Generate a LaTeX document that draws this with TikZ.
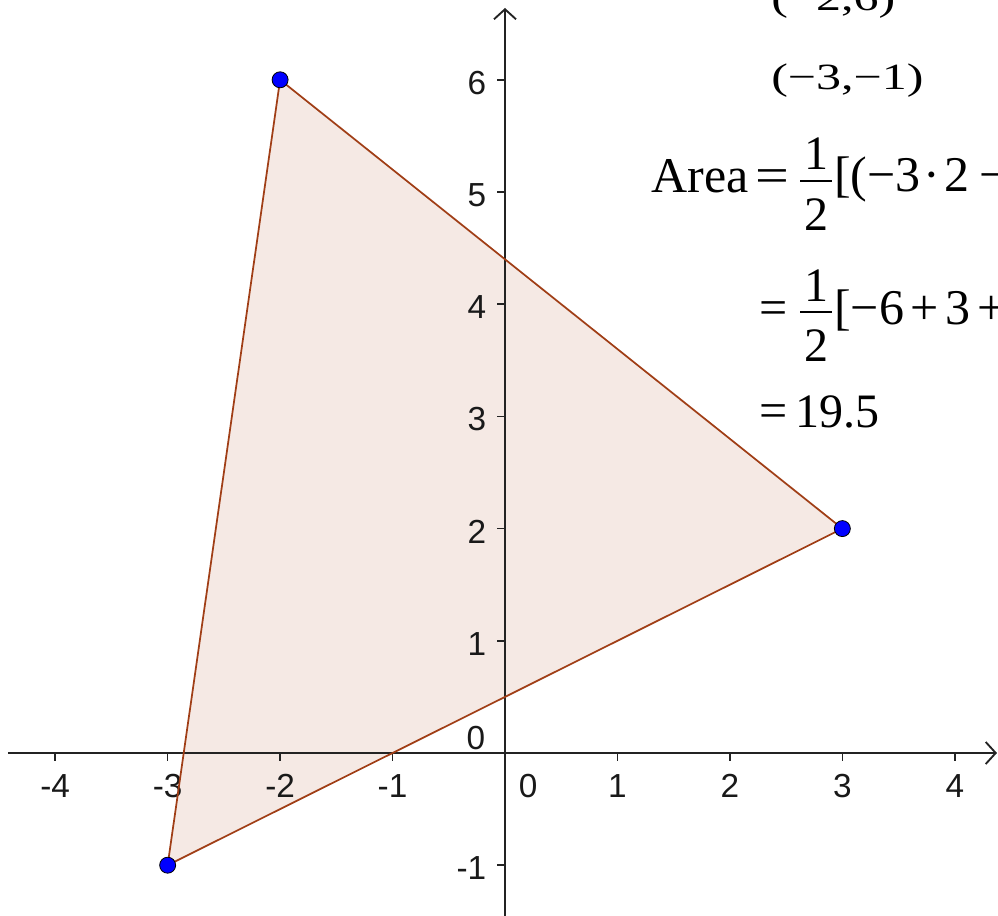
\documentclass[tikz,border=0pt]{standalone}
\usepackage{fontspec}
\setmainfont{Liberation Serif}
\newfontfamily\labfont{Liberation Sans}
\usetikzlibrary{arrows.meta}
\definecolor{edgec}{RGB}{160,62,22}
\definecolor{fillc}{RGB}{245,233,228}
\definecolor{axisc}{RGB}{35,35,35}
\definecolor{ptblue}{RGB}{0,0,255}
\tikzset{
  eqtext/.style={anchor=base west, inner sep=0pt, font=\fontsize{37.5pt}{40pt}\selectfont},
  fracdig/.style={anchor=base, inner sep=0pt, font=\fontsize{36pt}{40pt}\selectfont},
  ticklab/.style={inner sep=0pt, font=\labfont\fontsize{25pt}{28pt}\selectfont, text=black!90},
  axisline/.style={draw=axisc, line width=1.4pt},
  tickline/.style={draw=axisc, line width=1.2pt},
  fracbar/.style={line width=1.5pt},
  tri/.style={draw=edgec, line width=1.3pt, line join=round},
  vertexdot/.style={circle, fill=ptblue, draw=black, line width=0.6pt, minimum size=12pt, inner sep=0pt},
  axtip/.style={-{Straight Barb[length=7.5pt, width=16.5pt]}},
}
\begin{document}
\begin{tikzpicture}[x=0.75pt, y=-0.75pt]
\useasboundingbox (0,0) rectangle (998,916);
\clip (0,0) rectangle (998,916);
\coordinate (O) at (505,753);
\begin{scope}[shift={(O)}, x=84.3375pt, y=84.15pt]
  \coordinate (A) at (-2,6);
  \coordinate (B) at (3,2);
  \coordinate (C) at (-3,-1);
  \fill[fillc] (A) -- (B) -- (C) -- cycle;
  % axes
  \coordinate (xstart) at (-4.42,0);
  \coordinate (xend) at (4.375,0);
  \coordinate (ystart) at (0,-1.5);
  \coordinate (yend) at (0,6.64);
  \draw[axisline, axtip] (xstart) -- (xend);
  \draw[axisline, axtip] (ystart) -- (yend);
  \foreach \i in {-4,...,4} {
    \draw[tickline] (\i,0) -- ++(0,-0.075);
  }
  \foreach \i in {-4,-3,-2,-1,1,2,3,4} {
    \node[ticklab] (xlab\i) at (\i,-0.29) {\i};
  }
  \foreach \j in {-1,1,2,3,4,5,6} {
    \draw[tickline] (0,\j) -- ++(-0.075,0);
    \node[ticklab, anchor=east] (ylab\j) at (-0.165,\j-0.027) {\j};
  }
  \node[ticklab] (xlab0) at (0.205,-0.29) {0};
  \node[ticklab] (ylab0) at (-0.258,0.134) {0};
  % triangle
  \draw[tri] (A) -- (B) -- (C) -- cycle;
  \node[vertexdot] (pA) at (A) {};
  \node[vertexdot] (pB) at (B) {};
  \node[vertexdot] (pC) at (C) {};
\end{scope}
% text block
\node[eqtext] (v1) at (771,11) {\scalebox{1}[0.74]{(−2,6)}};
\node[eqtext] (v2) at (771,90) {\scalebox{1}[0.74]{(−3,−1)}};
\node[eqtext] (area) at (651,193) {Area};
\node[eqtext] (eq1) at (755,193) {\scalebox{1.2}[1]{=}};
\draw[fracbar] (800,181) -- (832,181);
\node[fracdig] (n1) at (816,170) {1};
\node[fracdig] (d1) at (816,230) {2};
\node[eqtext] (br1) at (834,192) {[(−3\hspace{2pt}·\hspace{3pt}2\hspace{8pt}−};
\node[eqtext] (eq2) at (759,324) {=};
\draw[fracbar] (800,312) -- (832,312);
\node[fracdig] (n2) at (816,301) {1};
\node[fracdig] (d2) at (816,361) {2};
\node[eqtext] (br2) at (834,324) {[−6\hspace{5pt}+\hspace{5pt}3\hspace{5pt}+};
\node[eqtext] (eq3) at (759,427) {=};
\node[fracdig, anchor=base west] (res) at (795,427) {19.5};
\end{tikzpicture}
\end{document}
